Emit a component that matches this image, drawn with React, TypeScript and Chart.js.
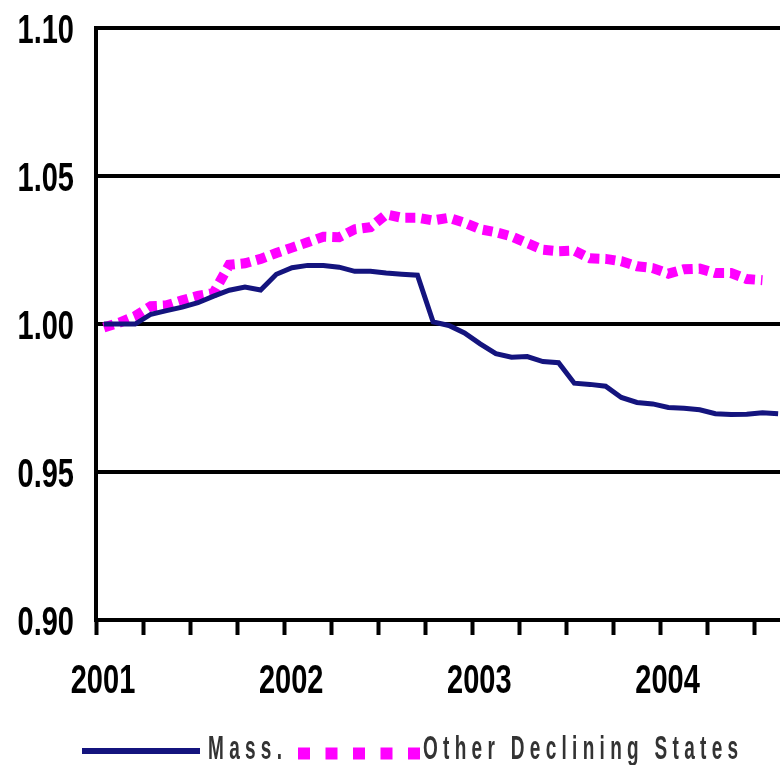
import React, { useEffect, useRef } from "react";
import { Chart, registerables } from "chart.js";

Chart.register(...registerables);

// Monthly index ratios, Jan 2001 onward (mid-month points)
const massValues = [
  1.000, 1.000, 1.000, 1.0033, 1.0045, 1.0057, 1.0072, 1.0094, 1.0114, 1.0125,
  1.0115, 1.0168, 1.0190, 1.0198, 1.0198, 1.0192, 1.0178, 1.0178, 1.0172, 1.0168,
  1.0165, 1.0007, 0.9995, 0.9970, 0.9933, 0.9900, 0.9888, 0.9890, 0.9873, 0.9869,
  0.9800, 0.9796, 0.9790, 0.9752, 0.9735, 0.9730, 0.9718, 0.9715, 0.9710, 0.9697,
  0.9694, 0.9695, 0.9700, 0.9697,
];
const otherValues = [
  0.9988, 1.0005, 1.0027, 1.0060, 1.0063, 1.0080, 1.0095, 1.0105, 1.0200, 1.0205,
  1.0220, 1.0240, 1.0258, 1.0276, 1.0295, 1.0293, 1.0320, 1.0327, 1.0370, 1.0359,
  1.0359, 1.0350, 1.0359, 1.0342, 1.0320, 1.0310, 1.0296, 1.0273, 1.0251, 1.0246,
  1.0248, 1.0222, 1.0220, 1.0212, 1.0195, 1.0189, 1.0170, 1.0185, 1.0187, 1.0172,
  1.0172, 1.0152, 1.0148,
];
const seriesNames = ["Mass.", "Other Declining States"];
const yearLabels = ["2001", "2002", "2003", "2004"];
const quarterTicks = [0, 3, 6, 9, 12, 15, 18, 21, 24, 27, 30, 33, 36, 39, 42];
const yTicks = [0.9, 0.95, 1.0, 1.05, 1.1];

const MASS_COLOR = "#14147e";
const OTHER_COLOR = "#ff00ff";
const FONT_FAMILY = '"Liberation Sans", Arial, sans-serif';

const toPoints = (vals: number[]) => vals.map((v, i) => ({ x: i + 0.5, y: v }));

// draws text vertically stretched (the original uses a tall, narrow face)
function drawTall(ctx: CanvasRenderingContext2D, t: string, x: number, baseline: number, sy: number) {
  ctx.save();
  ctx.translate(x, baseline);
  ctx.scale(1, sy);
  ctx.fillText(t, 0, 0);
  ctx.restore();
}

const tickLabelPlugin = {
  id: "tallTickLabels",
  afterDraw(chart: any) {
    const ctx = chart.ctx as CanvasRenderingContext2D;
    const xs = chart.scales.x;
    const ys = chart.scales.y;
    const size = 29;
    const sy = 1.42;
    const capH = size * 0.716 * sy;
    ctx.save();
    ctx.fillStyle = "#000";
    ctx.font = `bold ${size}px ${FONT_FAMILY}`;
    ctx.textBaseline = "alphabetic";
    ctx.textAlign = "right";
    yTicks.forEach((v) => {
      const py = ys.getPixelForValue(v);
      drawTall(ctx, v.toFixed(2), ys.right - 22, py + capH / 2, sy);
    });
    ctx.textAlign = "center";
    yearLabels.forEach((lab, i) => {
      const px = xs.getPixelForValue(i * 12);
      drawTall(ctx, lab, px + 7, xs.top + 73, sy);
    });
    ctx.restore();
  },
};

const legendPlugin = {
  id: "customLegend",
  afterDraw(chart: any) {
    const ctx = chart.ctx as CanvasRenderingContext2D;
    ctx.save();
    ctx.strokeStyle = MASS_COLOR;
    ctx.lineWidth = 6;
    ctx.setLineDash([]);
    ctx.beginPath();
    ctx.moveTo(82, 751);
    ctx.lineTo(200, 751);
    ctx.stroke();
    ctx.strokeStyle = OTHER_COLOR;
    ctx.lineWidth = 12;
    ctx.setLineDash([12, 15.5]);
    ctx.beginPath();
    ctx.moveTo(298, 753.5);
    ctx.lineTo(420, 753.5);
    ctx.stroke();
    ctx.setLineDash([]);
    ctx.fillStyle = "#333";
    ctx.font = `bold 19px ${FONT_FAMILY}`;
    (ctx as any).letterSpacing = "5.3px";
    ctx.textBaseline = "alphabetic";
    ctx.textAlign = "left";
    drawTall(ctx, seriesNames[0], 208, 759, 1.75);
    drawTall(ctx, seriesNames[1], 423, 759, 1.75);
    ctx.restore();
  },
};

export default function App() {
  const canvasRef = useRef<HTMLCanvasElement | null>(null);

  useEffect(() => {
    const canvas = canvasRef.current;
    if (!canvas) return;
    const chart = new Chart(canvas, {
      type: "line",
      data: {
        datasets: [
          {
            label: seriesNames[0],
            data: toPoints(massValues),
            borderColor: MASS_COLOR,
            borderWidth: 5,
            pointRadius: 0,
            tension: 0,
            fill: false,
          },
          {
            label: seriesNames[1],
            data: toPoints(otherValues),
            borderColor: OTHER_COLOR,
            borderWidth: 10,
            borderDash: [10, 6],
            borderCapStyle: "butt",
            pointRadius: 0,
            tension: 0,
            fill: false,
          },
        ],
      },
      options: {
        responsive: false,
        animation: false,
        layout: { padding: { top: 28, right: 0, bottom: 0, left: 0 } },
        plugins: {
          legend: { display: false },
          tooltip: { enabled: false },
        },
        scales: {
          x: {
            type: "linear",
            min: 0,
            max: 43.62,
            afterBuildTicks: (s: any) => {
              s.ticks = quarterTicks.map((v) => ({ value: v }));
            },
            afterFit: (s: any) => {
              s.height = 145;
            },
            ticks: { display: false, includeBounds: false, autoSkip: false },
            grid: {
              drawOnChartArea: false,
              drawTicks: true,
              tickLength: 15,
              tickWidth: 4,
              tickColor: "#000",
            },
            border: { color: "#000", width: 4 },
          },
          y: {
            min: 0.9,
            max: 1.1,
            afterBuildTicks: (s: any) => {
              s.ticks = yTicks.map((v) => ({ value: v }));
            },
            afterFit: (s: any) => {
              s.width = 96;
            },
            ticks: { display: false },
            grid: {
              drawTicks: false,
              lineWidth: 4,
              color: (c: any) => (c.tick && Math.abs(c.tick.value - 0.9) < 1e-6 ? "rgba(0,0,0,0)" : "#000"),
            },
            border: { color: "#000", width: 4 },
          },
        },
      },
      plugins: [tickLabelPlugin, legendPlugin],
    } as any);
    return () => chart.destroy();
  }, []);

  return (
    <div style={{ position: "fixed", left: 0, top: 0, width: 780, height: 765, background: "#fff" }}>
      <canvas ref={canvasRef} width={780} height={765} />
    </div>
  );
}
